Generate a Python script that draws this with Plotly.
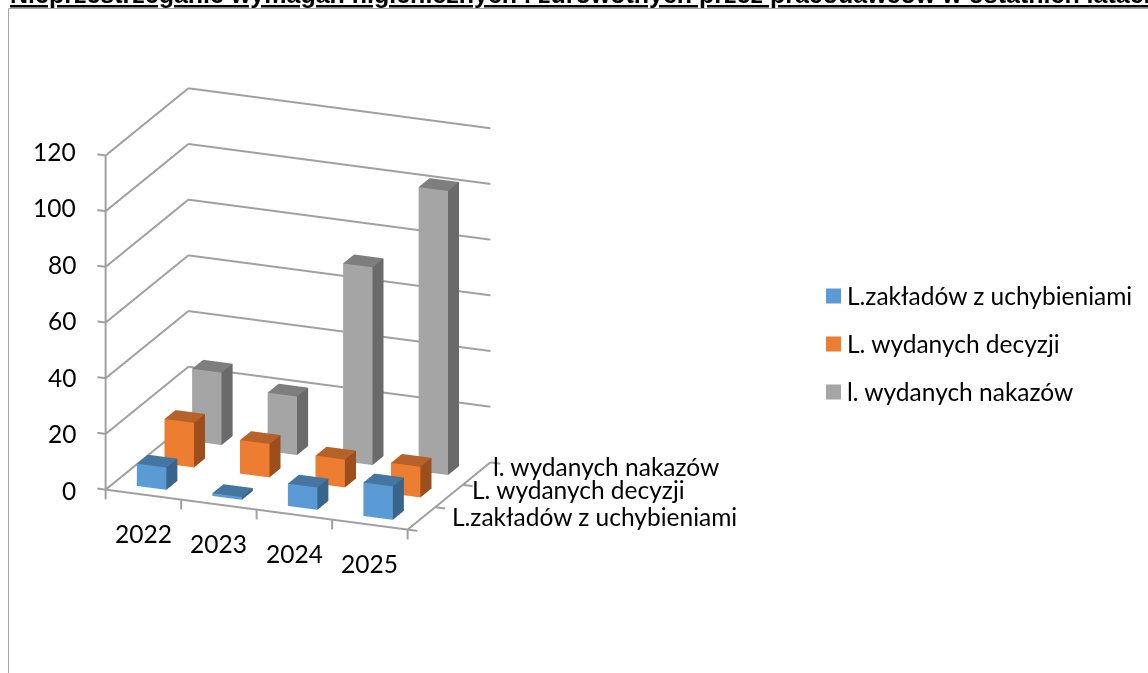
import plotly.graph_objects as go
import numpy as np

years = ["2022", "2023", "2024", "2025"]
series = ["L.zakładów z uchybieniami", "L. wydanych decyzji", "l. wydanych nakazów"]
blue = [8, 1, 8, 12]
orange = [16, 12, 10, 11]
gray = [26, 21, 71, 102]
values = [blue, orange, gray]
z_ticks = [0, 20, 40, 60, 80, 100, 120]
front = ["#5B9BD5", "#ED7D31", "#A5A5A5"]
top = ["#44769F", "#B7622A", "#7E7E7E"]
side = ["#39648C", "#9C4F1C", "#6A6A6A"]
title = "Nieprzestrzeganie wymagań higienicznych i zdrowotnych przez pracodawców w ostatnich latach"
FONT = "Lato"
FS = 24.5
GRID = "#A0A0A0"
W = 0.39
D = 0.40


def bars(vals, j, c_front, c_top, c_side):
    xs, ys, zs, ii, jj, kk, fc = [], [], [], [], [], [], []
    for i, v in enumerate(vals):
        x0, x1 = i + 0.5 - W / 2, i + 0.5 + W / 2
        y0, y1 = j + 0.5 - D / 2, j + 0.5 + D / 2
        n = len(xs)
        xs += [x0, x1, x1, x0, x0, x1, x1, x0]
        ys += [y0, y0, y1, y1, y0, y0, y1, y1]
        zs += [0, 0, 0, 0, v, v, v, v]
        quads = [((0, 1, 5, 4), c_front), ((1, 2, 6, 5), c_side), ((4, 5, 6, 7), c_top)]
        for (a, b, c, d), col in quads:
            ii += [n + a, n + a]
            jj += [n + b, n + c]
            kk += [n + c, n + d]
            fc += [col, col]
    return go.Mesh3d(x=xs, y=ys, z=zs, i=ii, j=jj, k=kk, facecolor=fc, flatshading=True,
                     lighting=dict(ambient=1, diffuse=0, specular=0, fresnel=0, roughness=1),
                     hoverinfo="skip", showscale=False)


fig = go.Figure()
for j, vals in enumerate(values):
    fig.add_trace(bars(vals, j, front[j], top[j], side[j]))

nx, ny = len(years), len(series)
lx, ly, lz = [], [], []
def seg(a, b):
    lx.extend([a[0], b[0], None]); ly.extend([a[1], b[1], None]); lz.extend([a[2], b[2], None])

for z in z_ticks:
    seg((0, 0, z), (0, ny, z))
    if z > 0:
        seg((0, ny, z), (nx, ny, z))
    seg((0, 0, z), (-0.11, 0, z))
seg((0, 0, 0), (0, 0, z_ticks[-1]))
seg((0, 0, 0), (nx, 0, 0))
seg((nx, 0, 0), (nx, ny, 0))
for i in range(nx + 1):
    seg((i, 0, 0), (i, 0, -3.5))
for j in range(ny + 1):
    seg((nx, j, 0), (nx + 0.13, j, 0))
fig.add_trace(go.Scatter3d(x=lx, y=ly, z=lz, mode="lines", line=dict(color=GRID, width=4),
                           hoverinfo="skip", showlegend=False))

ann3d = []
for k, z in enumerate(z_ticks):
    ann3d.append(dict(x=-0.37, y=0, z=z, text=str(z), showarrow=False, xanchor="right", yanchor="middle",
                      yshift=-5 + k * 0.8,
                      font=dict(family=FONT, size=FS, color="#000")))
for i, yr in enumerate(years):
    ann3d.append(dict(x=i + 0.5, y=0, z=-14, text=yr, showarrow=False, xanchor="center", yanchor="middle",
                      font=dict(family=FONT, size=FS, color="#000")))
series_shift = [(14, -3.5), (6, -8.5), (-1, -8.5)]
for j, s in enumerate(series):
    ann3d.append(dict(x=nx + 0.2, y=j + 0.5, z=0, text=s, showarrow=False, xanchor="left", yanchor="middle",
                      xshift=series_shift[j][0], yshift=-series_shift[j][1],
                      font=dict(family=FONT, size=FS, color="#000")))

W_PX, H_PX = 1148, 673
shapes = [
    dict(type="line", xref="paper", yref="paper", x0=8.5 / W_PX, x1=8.5 / W_PX, y0=0, y1=1 - 8.5 / H_PX,
         line=dict(color="#A6A6A6", width=1)),
    dict(type="line", xref="paper", yref="paper", x0=8.5 / W_PX, x1=1, y0=1 - 8.5 / H_PX, y1=1 - 8.5 / H_PX,
         line=dict(color="#A6A6A6", width=1)),
]
ann = [dict(xref="paper", yref="paper", x=8 / W_PX, y=1 + 6.5 / H_PX, text="<b><u>" + title + "</u></b>", showarrow=False,
            xanchor="left", yanchor="middle", font=dict(family="Liberation Sans", size=25, color="#000"))]
for j, s in enumerate(series):
    yc = 296 + 48 * j
    shapes.append(dict(type="rect", xref="paper", yref="paper", x0=826 / W_PX, x1=841 / W_PX,
                       y0=1 - (yc + 7.5) / H_PX, y1=1 - (yc - 7.5) / H_PX, fillcolor=front[j], line=dict(width=0)))
    ann.append(dict(xref="paper", yref="paper", x=845 / W_PX, y=1 - (yc - 1) / H_PX, text=s, showarrow=False,
                    xanchor="left", yanchor="middle", font=dict(family=FONT, size=FS, color="#000")))

hidden = dict(visible=False)
fig.update_layout(
    width=W_PX, height=H_PX, margin=dict(l=0, r=0, t=0, b=0), paper_bgcolor="white", showlegend=False,
    shapes=shapes, annotations=ann,
    scene=dict(
        domain=dict(x=[0, 596 / W_PX], y=[12.5 / H_PX, 666.5 / H_PX]),
        xaxis=dict(range=[-0.4, 4.4], **hidden), yaxis=dict(range=[-0.02, 3.02], **hidden),
        zaxis=dict(range=[-20, 122], **hidden),
        aspectmode="manual", aspectratio=dict(x=1.195, y=0.685, z=1.28),
        camera=dict(projection=dict(type="orthographic"), eye=dict(x=0.777, y=-1.924, z=0.72),
                    up=dict(x=0, y=0, z=1), center=dict(x=0, y=0, z=0)),
        annotations=ann3d,
    ),
)
fig.write_html("out.html", config=dict(displayModeBar=False), post_script="document.body.style.margin='0';")
